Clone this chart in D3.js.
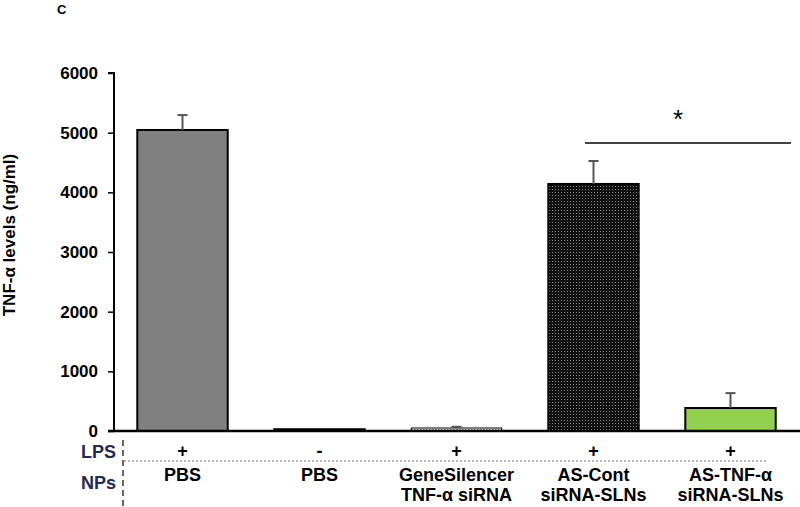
<!DOCTYPE html>
<html><head><meta charset="utf-8">
<script src="https://cdn.jsdelivr.net/npm/d3@7"></script>
<style>body{margin:0;background:#fff}svg{display:block}text{font-family:Arial,"Liberation Sans",sans-serif}</style>
</head><body><svg id="c" width="800" height="507"></svg>
<script>
const categories = ["PBS|", "PBS", "GeneSilencer|TNF-α siRNA", "AS-Cont|siRNA-SLNs", "AS-TNF-α|siRNA-SLNs"];
const catIds = ["c1","c2","c3","c4","c5"];
const lpsSigns = ["+", "-", "+", "+", "+"];
const values = [5045, 30, 50, 4140, 385];
const errors = [250, 0, 20, 385, 250];
const yTicks = [0, 1000, 2000, 3000, 4000, 5000, 6000];

const svg = d3.select("#c");
const defs = svg.append("defs");
const p1 = defs.append("pattern").attr("id","dotLight").attr("width",3).attr("height",3).attr("patternUnits","userSpaceOnUse");
p1.append("rect").attr("width",3).attr("height",3).attr("fill","#fff");
p1.append("rect").attr("width",1.5).attr("height",1.5).attr("fill","#777");
const p2 = defs.append("pattern").attr("id","dotDark").attr("width",3).attr("height",3).attr("patternUnits","userSpaceOnUse");
p2.append("rect").attr("width",3).attr("height",3).attr("fill","#111");
p2.append("rect").attr("width",1).attr("height",1).attr("fill","#888");
const fills = ["#808080", "#222", "url(#dotLight)", "url(#dotDark)", "#92d050"];

const x = d3.scaleBand().domain(catIds).range([114, 799]).paddingInner(0.34).paddingOuter(0.17);
const y = d3.scaleLinear().domain([0, 6000]).range([431, 73]);

// y axis
const ya = svg.append("g").attr("transform","translate(114,0)")
  .call(d3.axisLeft(y).tickValues(yTicks).tickSize(6).tickPadding(10).tickFormat(d3.format("d")));
ya.select(".domain").attr("stroke","#000").attr("stroke-width",2).attr("d","M-6,73H0V431");
ya.selectAll(".tick line").attr("stroke","#000").attr("stroke-width",1.5);
ya.selectAll(".tick text").attr("font-size",17).attr("font-weight","bold").attr("fill","#000");

// bars
svg.selectAll("rect.bar").data(values).join("rect").attr("class","bar")
  .attr("x",(d,i)=>x(catIds[i])).attr("width",x.bandwidth())
  .attr("y",d=>y(d)).attr("height",d=>y(0)-y(d))
  .attr("fill",(d,i)=>fills[i]).attr("stroke","#000").attr("stroke-width",(d,i)=>i===2?1:2);

// error bars
const eb = svg.selectAll("g.err").data(values).join("g").attr("class","err");
eb.each(function(d,i){
  if (!(errors[i]>0)) return;
  const cx = x(catIds[i]) + x.bandwidth()/2;
  const g = d3.select(this);
  g.append("line").attr("x1",cx).attr("x2",cx).attr("y1",y(d)).attr("y2",y(d+errors[i])).attr("stroke","#555").attr("stroke-width",2);
  g.append("line").attr("x1",cx-5).attr("x2",cx+5).attr("y1",y(d+errors[i])).attr("y2",y(d+errors[i])).attr("stroke","#555").attr("stroke-width",2);
});

// x axis line
svg.append("line").attr("x1",108).attr("x2",800).attr("y1",431).attr("y2",431).attr("stroke","#000").attr("stroke-width",2.5);

// significance
svg.append("line").attr("x1",585).attr("x2",791).attr("y1",143).attr("y2",143).attr("stroke","#000").attr("stroke-width",1.5);
svg.append("text").attr("x",678).attr("y",128).attr("text-anchor","middle").attr("font-family","'Liberation Serif',serif").attr("font-size",26).text("*");

// LPS / NPs rows
svg.append("line").attr("x1",123).attr("x2",123).attr("y1",440).attr("y2",507).attr("stroke","#000").attr("stroke-width",1.2).attr("stroke-dasharray","6,4");
svg.append("line").attr("x1",124).attr("x2",768).attr("y1",461).attr("y2",461).attr("stroke","#444").attr("stroke-width",0.8).attr("stroke-dasharray","2,2");
svg.append("text").attr("x",116).attr("y",458).attr("text-anchor","end").attr("font-size",18).attr("font-weight","bold").attr("fill","#1f2a55").text("LPS");
svg.append("text").attr("x",116).attr("y",489).attr("text-anchor","end").attr("font-size",18).attr("font-weight","bold").attr("fill","#1f2a55").text("NPs");

svg.selectAll("text.lps").data(lpsSigns).join("text").attr("class","lps")
  .attr("x",(d,i)=>x(catIds[i])+x.bandwidth()/2).attr("y",457).attr("text-anchor","middle")
  .attr("font-size",18).attr("font-weight","bold").text(d=>d);

const cl = svg.selectAll("text.cat").data(categories).join("text").attr("class","cat")
  .attr("text-anchor","middle").attr("font-size",18).attr("font-weight","bold");
cl.each(function(d,i){
  const t = d3.select(this);
  const cx = x(catIds[i]) + x.bandwidth()/2;
  d.split("|").forEach((s,k)=>{ if(s) t.append("tspan").attr("x",cx).attr("y",481+k*20).text(s); });
});

// y title
svg.append("text").attr("transform","translate(15,235) rotate(-90)").attr("text-anchor","middle")
  .attr("font-size",17).attr("font-weight","bold").text("TNF-α levels (ng/ml)");
// panel letter
svg.append("text").attr("x",57).attr("y",14).attr("font-size",13).attr("font-weight","bold").text("C");
</script></body></html>
